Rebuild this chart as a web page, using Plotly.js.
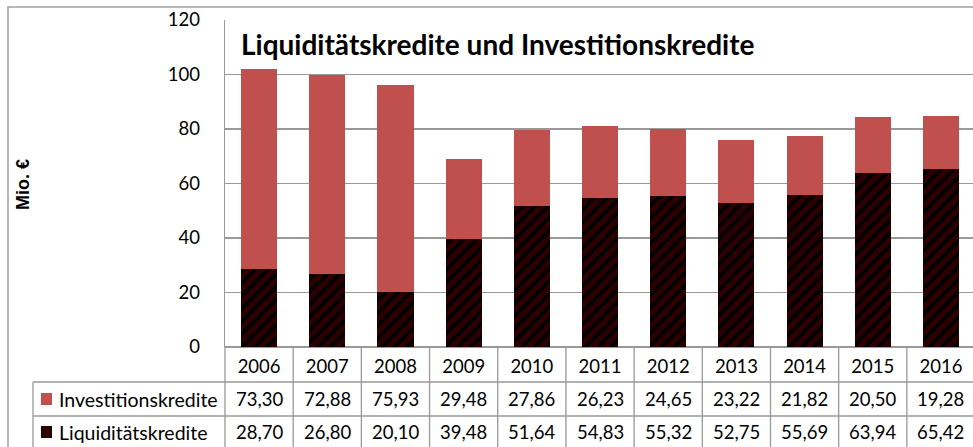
<!DOCTYPE html>
<html><head><meta charset="utf-8">
<script src="https://cdn.plot.ly/plotly-3.0.1.min.js"></script>
<style>html,body{margin:0;padding:0;background:#fff;}#chart{width:973px;height:447px;}</style>
</head><body><div id="chart"></div>
<script>
const years = ['2006','2007','2008','2009','2010','2011','2012','2013','2014','2015','2016'];
const investitionskredite = [73.30,72.88,75.93,29.48,27.86,26.23,24.65,23.22,21.82,20.50,19.28];
const liquiditaetskredite = [28.70,26.80,20.10,39.48,51.64,54.83,55.32,52.75,55.69,63.94,65.42];
const seriesNames = ['Investitionskredite','Liquiditätskredite'];
const titleText = 'Liquiditätskredite und Investitionskredite';
const yTitle = 'Mio. €';
const yTicks = [0,20,40,60,80,100,120];

const RED = '#C0504D', DARK = '#2c0000', GRID = '#999999';
const FONT = 'Lato, "Open Sans", sans-serif';
const W = 973, H = 447, L = 225, T = 20, B = 100, R = 0;
const pw = W - L - R, ph = H - T - B;
const px = p => (p - L) / pw;           // pixel x -> paper
const py = p => (H - B - p) / ph;       // pixel y -> paper
const idx = years.map((_, i) => i);
const fmt = v => v.toFixed(2).replace('.', ',');

const traces = [
  {type:'bar', name:seriesNames[1], x:idx, y:liquiditaetskredite,
   marker:{color:DARK, line:{width:0}, pattern:{shape:'/', fgcolor:'#000000', bgcolor:DARK, size:9, solidity:0.4}},
   hoverinfo:'skip'},
  {type:'bar', name:seriesNames[0], x:idx, y:investitionskredite,
   marker:{color:RED, line:{width:0}}, hoverinfo:'skip'}
];

const shapes = [];
const annotations = [];
const line = (x0,y0,x1,y1,xref,yref,color) => shapes.push({type:'line', xref:xref, yref:yref, x0:x0, y0:y0, x1:x1, y1:y1, line:{color:color||GRID, width:1.3}, layer:'above'});

// outer frame
shapes.push({type:'rect', xref:'paper', yref:'paper', x0:px(8), x1:px(990), y0:py(7), y1:py(470), line:{color:'#a0a0a0', width:1.5}, fillcolor:'rgba(0,0,0,0)', layer:'below'});
// table horizontals
line(px(33), py(382), px(990), py(382), 'paper', 'paper');
line(px(33), py(416), px(990), py(416), 'paper', 'paper');
// table verticals
line(px(33), py(382), px(33), py(460), 'paper', 'paper');
line(px(225), py(347), px(225), py(460), 'paper', 'paper');
idx.forEach(i => line(i + 0.5, py(347), i + 0.5, py(460), 'x', 'paper'));

// table row labels and values
const rows = [
  {name:seriesNames[0], vals:investitionskredite, yc:399, color:RED},
  {name:seriesNames[1], vals:liquiditaetskredite, yc:432, color:DARK}
];
rows.forEach(r => {
  shapes.push({type:'rect', xref:'paper', yref:'paper', x0:px(41), x1:px(52), y0:py(r.yc-6), y1:py(r.yc+6), fillcolor:r.color, line:{width:0}});
  annotations.push({xref:'paper', yref:'paper', x:px(57), y:py(r.yc), xanchor:'left', yanchor:'middle', text:r.name, showarrow:false, font:{family:FONT, size:19.5, color:'#000'}});
  r.vals.forEach((v, i) => annotations.push({xref:'x', yref:'paper', x:i, y:py(r.yc), xanchor:'center', yanchor:'middle', text:fmt(v), showarrow:false, font:{family:FONT, size:18.5, color:'#000'}}));
});
// y-axis title
annotations.push({xref:'paper', yref:'paper', x:px(23), y:py(184), text:'<b>'+yTitle+'</b>', textangle:-90, showarrow:false, xanchor:'center', yanchor:'middle', font:{family:'Arial, "Liberation Sans", sans-serif', size:18, color:'#000'}});

const layout = {
  width:W, height:H, margin:{l:L, r:R, t:T, b:B, pad:0},
  paper_bgcolor:'#fff', plot_bgcolor:'#fff',
  barmode:'stack', bargap:0.47, showlegend:false,
  title:{text:'<b>'+titleText+'</b>', xref:'paper', x:px(241), xanchor:'left', yref:'container', y:1 - 45/H, yanchor:'middle', font:{family:FONT, size:28, color:'#000'}},
  xaxis:{range:[-0.5, 10.47], tickvals:idx, ticktext:years, showgrid:false, zeroline:false, showline:false, ticks:'', tickfont:{family:FONT, size:18.5, color:'#000'}, ticklabelstandoff:6, fixedrange:true},
  yaxis:{range:[0,120], tickvals:yTicks, showgrid:true, gridcolor:GRID, gridwidth:1.3, zeroline:true, zerolinecolor:GRID, zerolinewidth:1.3, showline:true, linecolor:GRID, linewidth:1.3, ticks:'', tickfont:{family:FONT, size:18.5, color:'#000'}, ticklabelstandoff:20, fixedrange:true},
  shapes:shapes, annotations:annotations
};
Plotly.newPlot('chart', traces, layout, {displayModeBar:false, staticPlot:true});
</script></body></html>
